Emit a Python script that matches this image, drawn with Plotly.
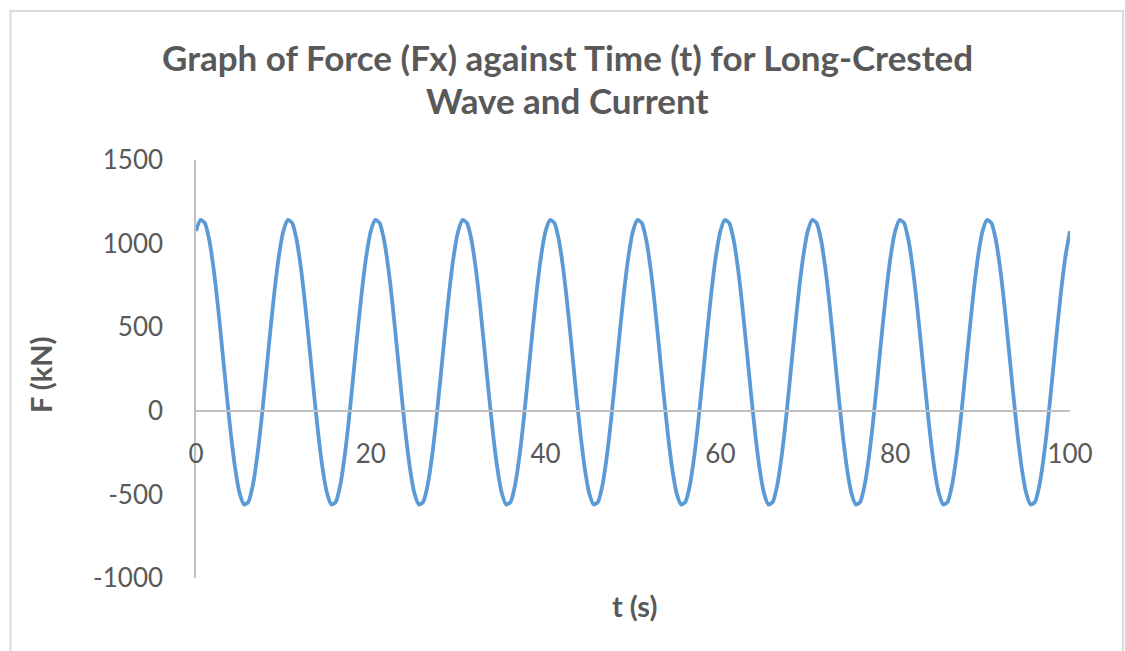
import numpy as np
import plotly.graph_objects as go

# Time samples (s), 0.5 s spacing over the 100 s record
time_s = np.arange(0, 100.5, 0.5)

# Horizontal force Fx (kN), one row per 10 s wave period
force_kN = [
    1075, 1141, 1124, 1026, 855, 630, 370, 104, -145, -351, -495, -561, -544, -446, -275, -50, 210, 476, 725, 931,
    1075, 1141, 1124, 1026, 855, 630, 370, 104, -145, -351, -495, -561, -544, -446, -275, -50, 210, 476, 725, 931,
    1075, 1141, 1124, 1026, 855, 630, 370, 104, -145, -351, -495, -561, -544, -446, -275, -50, 210, 476, 725, 931,
    1075, 1141, 1124, 1026, 855, 630, 370, 104, -145, -351, -495, -561, -544, -446, -275, -50, 210, 476, 725, 931,
    1075, 1141, 1124, 1026, 855, 630, 370, 104, -145, -351, -495, -561, -544, -446, -275, -50, 210, 476, 725, 931,
    1075, 1141, 1124, 1026, 855, 630, 370, 104, -145, -351, -495, -561, -544, -446, -275, -50, 210, 476, 725, 931,
    1075, 1141, 1124, 1026, 855, 630, 370, 104, -145, -351, -495, -561, -544, -446, -275, -50, 210, 476, 725, 931,
    1075, 1141, 1124, 1026, 855, 630, 370, 104, -145, -351, -495, -561, -544, -446, -275, -50, 210, 476, 725, 931,
    1075, 1141, 1124, 1026, 855, 630, 370, 104, -145, -351, -495, -561, -544, -446, -275, -50, 210, 476, 725, 931,
    1075, 1141, 1124, 1026, 855, 630, 370, 104, -145, -351, -495, -561, -544, -446, -275, -50, 210, 476, 725, 931,
    1075,
]

x_ticks = [0, 20, 40, 60, 80, 100]
y_ticks = [-1000, -500, 0, 500, 1000, 1500]

TEXT = "#595959"
AXIS = "#bfbfbf"
FONT = "Lato"

W, H = 1125, 651
L, R, T, B = 196, 55, 160, 73
pw, ph = W - L - R, H - T - B


def px_x(p):
    return (p - L) / pw


def px_y(p):
    return (H - B - p) / ph


fig = go.Figure(
    go.Scatter(
        x=time_s,
        y=force_kN,
        mode="lines",
        line=dict(color="#5B9BD5", width=3.8, shape="spline", smoothing=0.6),
        hoverinfo="x+y",
    )
)

title_lines = [
    ("Graph of Force (Fx) against Time (t) for Long-Crested", 57),
    ("Wave and Current", 100),
]

annotations = [
    dict(
        text=f"<b>{txt}</b>",
        xref="paper",
        yref="paper",
        x=px_x(567),
        y=px_y(yc),
        showarrow=False,
        xanchor="center",
        yanchor="middle",
        font=dict(family=FONT, size=35, color=TEXT),
    )
    for txt, yc in title_lines
]

annotations += [
    dict(
        text="<b>F (kN)</b>",
        xref="paper",
        yref="paper",
        x=px_x(40),
        y=px_y(375),
        textangle=-90,
        showarrow=False,
        xanchor="center",
        yanchor="middle",
        font=dict(family=FONT, size=29, color=TEXT),
    ),
    dict(
        text="<b>t (s)</b>",
        xref="paper",
        yref="paper",
        x=px_x(634),
        y=px_y(605),
        showarrow=False,
        xanchor="center",
        yanchor="middle",
        font=dict(family=FONT, size=29, color=TEXT),
    ),
]

fig.update_layout(
    width=W,
    height=H,
    margin=dict(l=L, r=R, t=T, b=B),
    paper_bgcolor="white",
    plot_bgcolor="white",
    showlegend=False,
    font=dict(family=FONT, color=TEXT, size=26),
    xaxis=dict(
        range=[0, 100],
        tickvals=x_ticks,
        ticktext=[str(v) for v in x_ticks],
        showgrid=False,
        zeroline=False,
        showline=True,
        linecolor=AXIS,
        linewidth=1.5,
        ticks="",
        anchor="free",
        position=1000 / 2500,
        ticklabelstandoff=20,
        tickfont=dict(family=FONT, size=26, color=TEXT),
    ),
    yaxis=dict(
        range=[-1000, 1500],
        tickvals=y_ticks,
        ticktext=[str(v) for v in y_ticks],
        showgrid=False,
        zeroline=False,
        showline=True,
        linecolor=AXIS,
        linewidth=1.5,
        ticks="",
        ticklabelstandoff=26,
        tickfont=dict(family=FONT, size=26, color=TEXT),
    ),
    annotations=annotations,
    shapes=[
        dict(
            type="rect",
            xref="paper",
            yref="paper",
            x0=px_x(10.5),
            x1=px_x(1123),
            y0=px_y(700),
            y1=px_y(11),
            line=dict(color="#d9d9d9", width=2),
            fillcolor="rgba(0,0,0,0)",
            layer="below",
        )
    ],
)

fig.write_html("out.html")
